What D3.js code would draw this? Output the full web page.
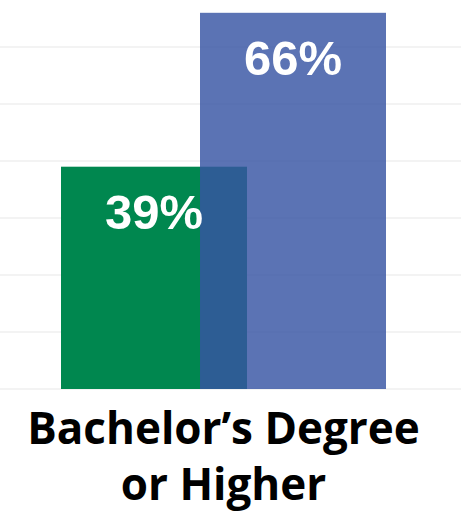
<!DOCTYPE html>
<html><head><meta charset="utf-8">
<script src="https://cdn.jsdelivr.net/npm/d3@7"></script>
<style>html,body{margin:0;padding:0;background:#fff;}svg{display:block;}</style>
</head><body>
<svg id="c" width="461" height="513"></svg>
<script>
const categories = ["Bachelor’s Degree or Higher"];
const categoryLines = [["Bachelor’s Degree", "or Higher"]];
const series = ["Group A", "Group B"];
const valuesA = [0.39];
const valuesB = [0.66];
const gridTicks = [0, 0.1, 0.2, 0.3, 0.4, 0.5, 0.6];
const colors = ["#00874f", "rgb(55,84,164)"];

const svg = d3.select("#c");
const W = 461;
const y = d3.scaleLinear().domain([0, 0.6]).range([389, 47]);
const x0 = d3.scaleBand().domain(categories).range([61, 386]).padding(0);
const x1 = d3.scaleBand().domain(series).range([0, x0.bandwidth()]).paddingInner(-0.338).paddingOuter(0);

svg.append("g").selectAll("line").data(gridTicks).join("line")
  .attr("x1", 0).attr("x2", W)
  .attr("y1", d => y(d)).attr("y2", d => y(d))
  .attr("stroke", "#efefef").attr("stroke-width", 1.5);

const data = [valuesA, valuesB];
series.forEach((s, si) => {
  const g = svg.append("g");
  g.selectAll("rect").data(categories).join("rect")
    .attr("x", (c) => x0(c) + x1(s))
    .attr("width", x1.bandwidth())
    .attr("y", (c, i) => y(data[si][i]))
    .attr("height", (c, i) => y(0) - y(data[si][i]))
    .attr("fill", colors[si])
    .attr("fill-opacity", si === 1 ? 0.82 : 1);
});
series.forEach((s, si) => {
  svg.append("g").selectAll("text").data(categories).join("text")
    .attr("x", c => x0(c) + x1(s) + x1.bandwidth() / 2)
    .attr("y", (c, i) => y(data[si][i]) + 62)
    .attr("text-anchor", "middle")
    .attr("fill", "#fff")
    .attr("font-family", "Liberation Sans, Arial, sans-serif")
    .attr("font-weight", "bold")
    .attr("font-size", 49)
    .text((c, i) => Math.round(data[si][i] * 100) + "%");
});

categories.forEach((c, ci) => {
  const t = svg.append("text")
    .attr("x", x0(c) + x0.bandwidth() / 2)
    .attr("y", 444)
    .attr("text-anchor", "middle")
    .attr("fill", "#000")
    .attr("font-family", "Open Sans, sans-serif")
    .attr("font-weight", "bold")
    .attr("font-size", 44);
  categoryLines[ci].forEach((ln, li) => {
    t.append("tspan").attr("x", x0(c) + x0.bandwidth() / 2).attr("dy", li === 0 ? 0 : 56).text(ln);
  });
});
</script>
</body></html>
